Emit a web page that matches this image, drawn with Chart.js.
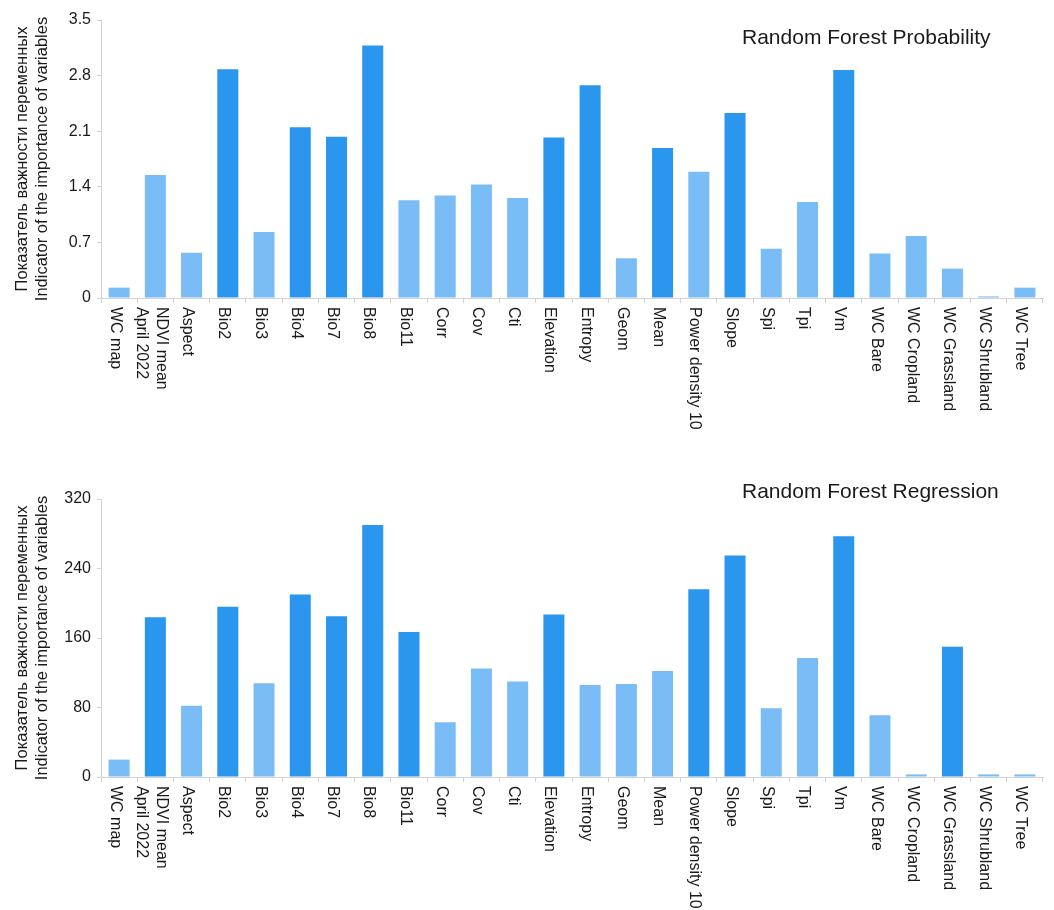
<!DOCTYPE html>
<html>
<head>
<meta charset="utf-8">
<title>Variable importance</title>
<script src="https://cdn.jsdelivr.net/npm/chart.js@4.4.1/dist/chart.umd.min.js"></script>
<style>
  html, body { margin: 0; padding: 0; background: #fff; overflow: hidden; }
  .panel { position: relative; width: 1054px; height: 455px; }
</style>
</head>
<body>
<div class="panel"><canvas id="probChart"></canvas></div>
<div class="panel"><canvas id="regrChart"></canvas></div>
<script>
// variable names (a "\n" splits a name over two lines under the axis)
const variables = [
  'WC map', 'NDVI mean\nApril 2022', 'Aspect', 'Bio2', 'Bio3', 'Bio4', 'Bio7', 'Bio8',
  'Bio11', 'Corr', 'Cov', 'Cti', 'Elevation', 'Entropy', 'Geom', 'Mean',
  'Power density 10', 'Slope', 'Spi', 'Tpi', 'Vm', 'WC Bare', 'WC Cropland',
  'WC Grassland', 'WC Shrubland', 'WC Tree'
];

// Random Forest Probability importance
const probValues = [
  0.13, 1.55, 0.57, 2.88, 0.83, 2.15, 2.03, 3.18,
  1.23, 1.29, 1.43, 1.26, 2.02, 2.68, 0.50, 1.89,
  1.59, 2.33, 0.62, 1.21, 2.87, 0.56, 0.78,
  0.37, 0.02, 0.13
];
const probKey = ['Bio2', 'Bio4', 'Bio7', 'Bio8', 'Elevation', 'Entropy', 'Mean', 'Slope', 'Vm'];
const probTicks = { max: 3.5, step: 0.7 };

// Random Forest Regression importance
const regrValues = [
  20, 184, 82, 196, 108, 210, 185, 290,
  167, 63, 125, 110, 187, 106, 107, 122,
  216, 255, 79, 137, 277, 71, 3,
  150, 3, 3
];
const regrKey = ['NDVI mean\nApril 2022', 'Bio2', 'Bio4', 'Bio7', 'Bio8', 'Bio11', 'Elevation',
  'Power density 10', 'Slope', 'Vm', 'WC Grassland'];
const regrTicks = { max: 320, step: 80 };

const yTitle = ['Показатель важности переменных', 'Indicator of the importance of variables'];

const DARK = '#2a96ee';
const LIGHT = '#7abcf5';
const AXIS = '#d3d3d3';
const INK = '#1a1a1a';
const FAMILY = '"Liberation Sans", Arial, sans-serif';

Chart.defaults.font.family = FAMILY;
Chart.defaults.color = INK;

// category names written downwards, starting just under the x axis
const downLabels = {
  id: 'downLabels',
  afterDraw(chart) {
    const { ctx, chartArea, scales: { x } } = chart;
    ctx.save();
    ctx.font = '16px ' + FAMILY;
    ctx.fillStyle = INK;
    ctx.textAlign = 'left';
    ctx.textBaseline = 'middle';
    chart.data.labels.forEach((label, i) => {
      const lines = label.split('\n');
      const cx = x.getPixelForValue(i) - 4;
      lines.forEach((line, j) => {
        const off = (j - (lines.length - 1) / 2) * 20;
        ctx.save();
        ctx.translate(cx - off, chartArea.bottom + 9);
        ctx.rotate(Math.PI / 2);
        ctx.fillText(line, 0, 0);
        ctx.restore();
      });
    });
    ctx.restore();
  }
};

// model name in the upper right of the plot
const cornerTitle = {
  id: 'cornerTitle',
  afterDraw(chart, args, opts) {
    const { ctx, chartArea } = chart;
    ctx.save();
    ctx.font = '21px ' + FAMILY;
    ctx.fillStyle = INK;
    ctx.textAlign = 'left';
    ctx.textBaseline = 'alphabetic';
    ctx.fillText(opts.text, chartArea.left + opts.dx, opts.y);
    ctx.restore();
  }
};

function makeChart(id, values, key, ticks, title, layout) {
  return new Chart(document.getElementById(id), {
    type: 'bar',
    data: {
      labels: variables,
      datasets: [{
        data: values,
        backgroundColor: variables.map(v => key.includes(v) ? DARK : LIGHT),
        borderWidth: 0,
        categoryPercentage: 1,
        barPercentage: 0.58
      }]
    },
    options: {
      responsive: true,
      maintainAspectRatio: false,
      animation: false,
      layout: { padding: { top: layout.top, right: 11, left: 0, bottom: 0 } },
      plugins: {
        legend: { display: false },
        tooltip: { enabled: false },
        cornerTitle: { text: title, dx: 641, y: layout.titleY }
      },
      scales: {
        x: {
          grid: { drawOnChartArea: false, drawTicks: true, tickLength: 5, color: AXIS, offset: true },
          border: { color: AXIS },
          ticks: { display: false },
          afterFit: s => { s.height = layout.axisHeight; }
        },
        y: {
          min: 0,
          max: ticks.max,
          ticks: { stepSize: ticks.step, padding: 6, color: INK, font: { size: 16 } },
          grid: { drawOnChartArea: false, drawTicks: true, tickLength: 4, color: AXIS },
          border: { color: AXIS },
          title: {
            display: true,
            text: yTitle,
            color: INK,
            font: { size: 16.5, lineHeight: 1.25 },
            padding: { top: 12, bottom: 0 }
          },
          afterFit: s => { s.width = 101; }
        }
      }
    },
    plugins: [downLabels, cornerTitle]
  });
}

makeChart('probChart', probValues, probKey, probTicks, 'Random Forest Probability',
  { top: 20, axisHeight: 157, titleY: 44 });
makeChart('regrChart', regrValues, regrKey, regrTicks, 'Random Forest Regression',
  { top: 44, axisHeight: 133, titleY: 43 });
</script>
</body>
</html>
